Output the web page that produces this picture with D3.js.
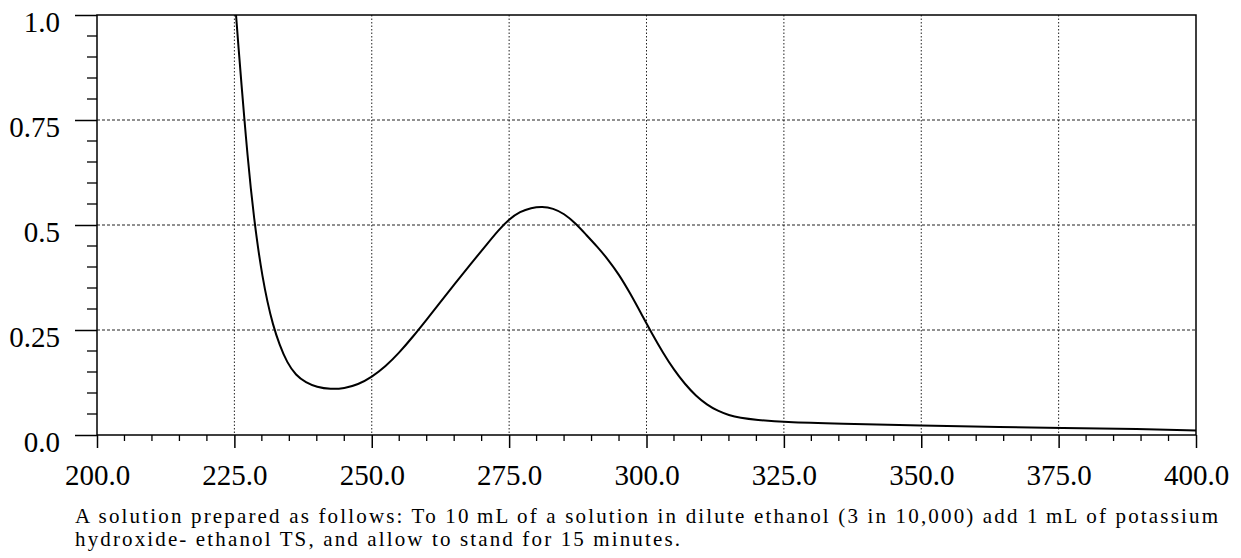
<!DOCTYPE html>
<html>
<head>
<meta charset="utf-8">
<script src="https://cdn.jsdelivr.net/npm/d3@7"></script>
</head>
<body style="margin:0">
<script>
// absorption spectrum
const wavelength = [225.3, 225.8, 226.3, 226.8, 227.4, 228.0, 228.6, 229.3, 230.1, 231.0,
  232.0, 233.2, 234.6, 236.2, 238.0, 240.0, 242.5, 245.0, 247.5, 250.0,
  252.5, 255.0, 257.5, 260.0, 262.0, 265.0, 268.0, 271.0, 273.0, 275.0,
  277.0, 279.0, 281.0, 283.0, 285.0, 287.0, 289.0, 291.0, 293.0, 295.0,
  297.0, 299.0, 301.0, 303.0, 305.0, 307.0, 309.0, 311.0, 313.0, 315.0,
  317.0, 320.0, 325.0, 335.0, 350.0, 365.0, 375.0, 390.0, 400.0];
const absorbance = [1.0, 0.915, 0.834, 0.755, 0.665, 0.585, 0.515, 0.445, 0.378, 0.317,
  0.263, 0.215, 0.172, 0.142, 0.125, 0.114, 0.109, 0.111, 0.120, 0.138,
  0.163, 0.196, 0.234, 0.275, 0.308, 0.358, 0.407, 0.455, 0.487, 0.514,
  0.532, 0.541, 0.544, 0.540, 0.527, 0.505, 0.477, 0.449, 0.418, 0.382,
  0.338, 0.290, 0.241, 0.196, 0.155, 0.121, 0.093, 0.072, 0.057, 0.047,
  0.041, 0.036, 0.031, 0.027, 0.022, 0.019, 0.017, 0.014, 0.011];

const xTicks = [200, 225, 250, 275, 300, 325, 350, 375, 400];
const yTicks = [0, 0.25, 0.5, 0.75, 1.0];
const yTickLabels = ["0.0", "0.25", "0.5", "0.75", "1.0"];
const caption = [
  "A solution prepared as follows: To 10\u2009mL of a solution in dilute ethanol (3 in 10,000) add 1\u2009mL of potassium",
  "hydroxide- ethanol TS, and allow to stand for 15 minutes."
];

const width = 1241, height = 558;
const plotLeft = 97, plotRight = 1196, plotTop = 15, plotBottom = 435;
const fontFace = "Liberation Serif";
const fontStyle = `"${fontFace}", "Times New Roman"`;

const x = d3.scaleLinear().domain([200, 400]).range([plotLeft, plotRight]);
const y = d3.scaleLinear().domain([0, 1]).range([plotBottom, plotTop]);

const svg = d3.select("body").append("svg")
    .attr("width", width)
    .attr("height", height)
    .attr("font-family", fontFace)
    .style("display", "block");

function serifText(sel, size) {
  return sel
      .attr("font-family", fontFace)
      .attr("font-size", size)
      .style("font-family", fontStyle)
      .style("font-size", size + "px")
      .attr("fill", "#000");
}

// grid
svg.append("g")
    .attr("stroke", "#222")
    .attr("stroke-width", 1)
    .attr("stroke-dasharray", "1.5,2")
  .selectAll("line")
  .data(xTicks.slice(1, -1))
  .join("line")
    .attr("x1", d => x(d)).attr("x2", d => x(d))
    .attr("y1", plotTop).attr("y2", plotBottom);

svg.append("g")
    .attr("stroke", "#222")
    .attr("stroke-width", 1)
    .attr("stroke-dasharray", "3,2")
  .selectAll("line")
  .data(yTicks.slice(1, -1))
  .join("line")
    .attr("x1", plotLeft).attr("x2", plotRight)
    .attr("y1", d => y(d)).attr("y2", d => y(d));

// minor ticks
svg.append("g")
    .attr("stroke", "#000")
    .attr("stroke-width", 1.3)
  .selectAll("line")
  .data(d3.range(205, 400, 5).filter(d => d % 25 !== 0))
  .join("line")
    .attr("x1", d => x(d)).attr("x2", d => x(d))
    .attr("y1", plotBottom).attr("y2", plotBottom + 6);

svg.append("g")
    .attr("stroke", "#000")
    .attr("stroke-width", 1.3)
  .selectAll("line")
  .data(d3.range(1, 20).filter(i => i % 5 !== 0).map(i => i * 0.05))
  .join("line")
    .attr("x1", plotLeft - 10).attr("x2", plotLeft)
    .attr("y1", d => y(d)).attr("y2", d => y(d));

// axes
const xAxis = svg.append("g")
    .attr("transform", `translate(0,${plotBottom})`)
    .call(d3.axisBottom(x).tickValues(xTicks).tickSize(13).tickSizeOuter(0)
      .tickFormat(d3.format(".1f")));
xAxis.attr("font-family", fontFace).attr("font-size", 29);
xAxis.select(".domain").remove();
xAxis.selectAll("line").attr("stroke-width", 1.5);
serifText(xAxis.selectAll("text").attr("y", 50).attr("dy", null), 29);

const yAxis = svg.append("g")
    .attr("transform", `translate(${plotLeft},0)`)
    .call(d3.axisLeft(y).tickValues(yTicks).tickSize(22).tickSizeOuter(0)
      .tickFormat((d, i) => yTickLabels[i]));
yAxis.attr("font-family", fontFace).attr("font-size", 29);
yAxis.select(".domain").remove();
yAxis.selectAll("line").attr("stroke-width", 1.5);
serifText(yAxis.selectAll("text").attr("x", -37).attr("dy", null).attr("y", 16), 29);

// frame
svg.append("path")
    .attr("fill", "none")
    .attr("stroke", "#000")
    .attr("stroke-width", 1.5)
    .attr("d", `M${plotLeft},${plotBottom}V${plotTop}H${plotRight}V${plotBottom}H${plotLeft}`);

// spectrum
const line = d3.line()
    .x((d, i) => x(wavelength[i]))
    .y(d => y(d))
    .curve(d3.curveBasis);

svg.append("path")
    .datum(absorbance)
    .attr("fill", "none")
    .attr("stroke", "#000")
    .attr("stroke-width", 2)
    .attr("d", line);

// caption, first line justified to the plot width
const cap = svg.append("g").attr("font-family", fontFace);

serifText(cap.append("text"), 21)
    .attr("x", 75).attr("y", 523)
    .attr("textLength", 1143)
    .attr("lengthAdjust", "spacing")
    .text(caption[0]);

serifText(cap.append("text"), 21)
    .attr("x", 75).attr("y", 546)
    .attr("textLength", 605)
    .attr("lengthAdjust", "spacing")
    .text(caption[1]);
</script>
</body>
</html>
